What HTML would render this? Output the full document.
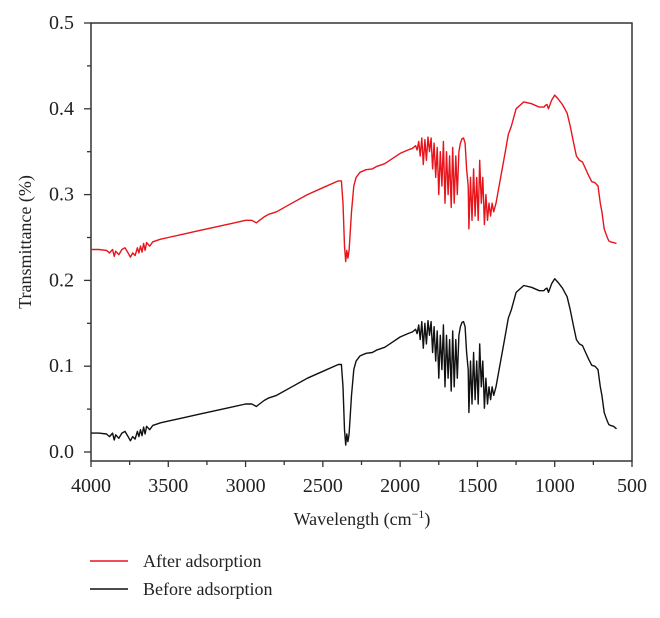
<!DOCTYPE html>
<html><head><meta charset="utf-8"><style>
body{margin:0;background:#fff}
svg text{font-family:"Liberation Serif",serif;fill:#222}
</style></head><body>
<svg id="chart" width="660" height="613" xmlns="http://www.w3.org/2000/svg">
<rect width="660" height="613" fill="#fff"/>
<g id="axes"></g>
<g id="series"></g>
<text transform="translate(31,242) rotate(-90)" text-anchor="middle" font-size="18">Transmittance (%)</text>
<text x="362" y="525" text-anchor="middle" font-size="18">Wavelength (cm<tspan font-size="12" dy="-7">−1</tspan><tspan dy="7">)</tspan></text>
<g>
<line x1="90" y1="561" x2="128" y2="561" stroke="#e8141c" stroke-width="1.5"/>
<text x="143" y="567" font-size="18">After adsorption</text>
<line x1="90" y1="589" x2="128" y2="589" stroke="#111" stroke-width="1.5"/>
<text x="143" y="595" font-size="18">Before adsorption</text>
</g>
</svg>
<script>
const xTicks=[4000,3500,3000,2500,2000,1500,1000,500];
const yTicks=[0.0,0.1,0.2,0.3,0.4,0.5];
const wn=[4000,3950,3900,3880,3860,3850,3840,3820,3800,3780,3760,3745,3730,3715,3700,3690,3680,3670,3660,3650,3640,3620,3600,3550,3500,3400,3300,3200,3100,3000,2960,2930,2910,2880,2850,2800,2700,2600,2500,2400,2380,2370,2360,2352,2345,2338,2330,2315,2300,2285,2260,2220,2180,2150,2100,2050,2000,1950,1920,
1900,1890,1880,1870,1860,1850,1840,1830,1820,1810,1800,1790,1780,1770,1760,1750,1740,1730,1720,1710,1700,1690,1680,1670,1660,1650,1640,1630,1620,1610,1600,1590,1580,1570,1560,1555,1545,1535,1525,1515,1505,1495,1485,1475,1465,1455,1445,1435,1425,1415,1405,1395,1380,
1360,1340,1320,1300,1280,1250,1200,1150,1100,1070,1060,1050,1040,1020,1000,980,950,920,900,880,860,840,820,800,780,760,740,720,705,695,680,670,660,650,640,620,600];
const afterVals=[.236,.236,.235,.232,.236,.228,.234,.23,.236,.238,.232,.227,.232,.229,.238,.232,.24,.233,.243,.235,.244,.24,.245,.248,.25,.254,.258,.262,.266,.27,.27,.267,.27,.274,.277,.28,.29,.3,.308,.316,.316,.29,.24,.222,.235,.226,.235,.28,.31,.32,.326,.329,.33,.333,.336,.342,.348,.352,.354,
.357,.352,.362,.345,.366,.335,.364,.34,.367,.35,.366,.33,.36,.32,.355,.30,.35,.31,.362,.29,.35,.30,.345,.285,.355,.29,.345,.30,.35,.36,.365,.366,.36,.33,.31,.26,.32,.27,.33,.275,.32,.27,.34,.29,.32,.265,.30,.27,.29,.275,.29,.28,.29,
.31,.33,.35,.37,.38,.40,.408,.406,.402,.402,.404,.405,.40,.41,.416,.412,.405,.395,.38,.362,.345,.34,.338,.33,.322,.315,.314,.31,.29,.28,.26,.255,.25,.246,.245,.244,.243];
const beforeVals=[.022,.022,.021,.018,.022,.014,.020,.016,.022,.024,.018,.013,.018,.015,.024,.018,.026,.019,.029,.021,.030,.026,.031,.034,.036,.040,.044,.048,.052,.056,.056,.053,.056,.060,.063,.066,.076,.086,.094,.102,.102,.076,.026,.008,.021,.012,.021,.066,.096,.106,.112,.115,.116,.119,.122,.128,.134,.138,.140,
.143,.138,.148,.131,.152,.121,.150,.126,.153,.136,.152,.116,.146,.106,.141,.086,.136,.096,.148,.076,.136,.086,.131,.071,.141,.076,.131,.086,.136,.146,.151,.152,.146,.116,.096,.046,.106,.056,.116,.061,.106,.056,.126,.076,.106,.051,.086,.056,.076,.061,.076,.066,.076,
.096,.116,.136,.156,.166,.186,.194,.192,.188,.188,.190,.191,.186,.196,.202,.198,.191,.181,.166,.148,.131,.126,.124,.116,.108,.101,.100,.096,.076,.066,.046,.041,.036,.032,.031,.030,.027];

const L=91,R=632,T=23,B=461,Y0=452,Y5=23;
const xs=w=>L+(4000-w)/3500*(R-L);
const ys=v=>Y0-v/0.5*(Y0-Y5);
const NS="http://www.w3.org/2000/svg";
const axes=document.getElementById('axes'),series=document.getElementById('series');
function mk(tag,attrs,parent){const e=document.createElementNS(NS,tag);for(const k in attrs)e.setAttribute(k,attrs[k]);parent.appendChild(e);return e;}
const frame=mk('rect',{x:L,y:T,width:R-L,height:B-T,fill:'none',stroke:'#333','stroke-width':1.5},axes);


xTicks.forEach((t,i)=>{
  const x=xs(t);
  const tk=mk('line',{x1:x,y1:B,x2:x,y2:B+6,stroke:'#333','stroke-width':1.3},axes);
  
  
  const lb=mk('text',{x:x,y:B+31,'text-anchor':'middle','font-size':20},axes);
  lb.textContent=t;
  
  
  if(i<xTicks.length-1){const xm=xs(t-250);
    const m=mk('line',{x1:xm,y1:B,x2:xm,y2:B+4,stroke:'#333','stroke-width':1.3},axes);
    
    }
});
yTicks.forEach((t,i)=>{
  const y=ys(t);
  const tk=mk('line',{x1:L-7,y1:y,x2:L,y2:y,stroke:'#333','stroke-width':1.3},axes);
  
  
  const lb=mk('text',{x:L-17,y:y+6,'text-anchor':'end','font-size':20},axes);
  lb.textContent=t.toFixed(1);
  
  
  if(i<yTicks.length-1){const ym=ys(t+0.05);
    const m=mk('line',{x1:L-4,y1:ym,x2:L,y2:ym,stroke:'#333','stroke-width':1.3},axes);
    
    }
});
function line(vals,color,name){
  const d=wn.map((w,i)=>(i?'L':'M')+xs(w).toFixed(1)+','+ys(vals[i]).toFixed(1)).join('');
  const p=mk('path',{d:d,fill:'none',stroke:color,'stroke-width':1.4,'stroke-linejoin':'round'},series);
  
  
}
line(afterVals,'#e8141c','after-adsorption-line');
line(beforeVals,'#111','before-adsorption-line');
</script>
</body></html>
